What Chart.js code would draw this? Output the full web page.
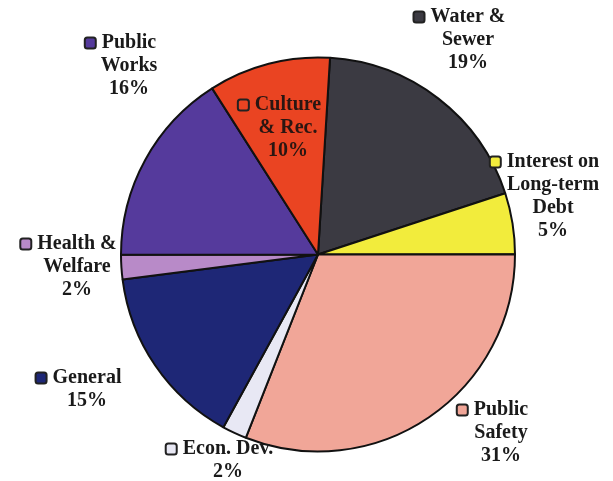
<!DOCTYPE html>
<html>
<head>
<meta charset="utf-8">
<script src="https://cdn.jsdelivr.net/npm/chart.js@4/dist/chart.umd.min.js"></script>
<style>
  html, body { margin: 0; padding: 0; background: #fff; }
  #wrap { width: 613px; height: 481px; }
</style>
</head>
<body>
<div id="wrap"><canvas id="chartPie" width="613" height="481"></canvas></div>
<script>
// categories, clockwise from the top
var categories = ["Water & Sewer", "Interest on Long-term Debt", "Public Safety", "Econ. Dev.",
                  "General", "Health & Welfare", "Public Works", "Culture & Rec."];
var shares = [19, 5, 31, 2, 15, 2, 16, 10];
// label lines as printed on the chart
var labelLines = [
  ["Water &", "Sewer"],
  ["Interest on", "Long-term", "Debt"],
  ["Public", "Safety"],
  ["Econ. Dev."],
  ["General"],
  ["Health &", "Welfare"],
  ["Public", "Works"],
  ["Culture", "& Rec."]
];

var colors = ['#3b3a42', '#f2ec3c', '#f1a698', '#e8e8f4', '#1e2776', '#b88ac8', '#553a9c', '#ea4422'];
// centre x of each label block and y of its first line
var labelPos = [[468, 17], [553, 162], [501, 410], [228, 449], [87, 378], [77, 244], [129, 43], [288, 105]];

var pieLabels = {
  id: 'pieLabels',
  afterDraw: function(chart) {
    var c = chart.ctx;
    c.save();
    c.font = 'bold 20px "Liberation Serif", "Times New Roman", serif';
    c.textAlign = 'center';
    c.textBaseline = 'middle';
    labelLines.forEach(function(lines, i) {
      var all = lines.concat([shares[i] + '%']);
      var x = labelPos[i][0], y = labelPos[i][1];
      c.fillStyle = i === 7 ? '#2a1612' : '#1a1a1a';
      all.forEach(function(t, k) { c.fillText(t, x, y + k * 23); });
      // little square marker before the first line
      var w = c.measureText(all[0]).width;
      var mx = x - w / 2 - 17, my = y - 5.5;
      c.beginPath();
      c.roundRect(mx, my, 11, 11, 2.5);
      c.fillStyle = colors[i];
      c.fill();
      c.lineWidth = 2;
      c.strokeStyle = '#222';
      c.stroke();
    });
    c.restore();
  }
};

var ctx = document.getElementById('chartPie').getContext('2d');
var chart = new Chart(ctx, {
  type: 'pie',
  data: {
    labels: categories,
    datasets: [{
      data: shares,
      backgroundColor: colors,
      borderColor: '#111',
      borderWidth: 2,
      radius: 197
    }]
  },
  options: {
    responsive: false,
    animation: false,
    rotation: 3.5,
    layout: { padding: { left: 23, right: 0, top: 28, bottom: 0 } },
    plugins: {
      legend: { display: false },
      tooltip: { enabled: false }
    }
  },
  plugins: [pieLabels]
});
</script>
</body>
</html>
